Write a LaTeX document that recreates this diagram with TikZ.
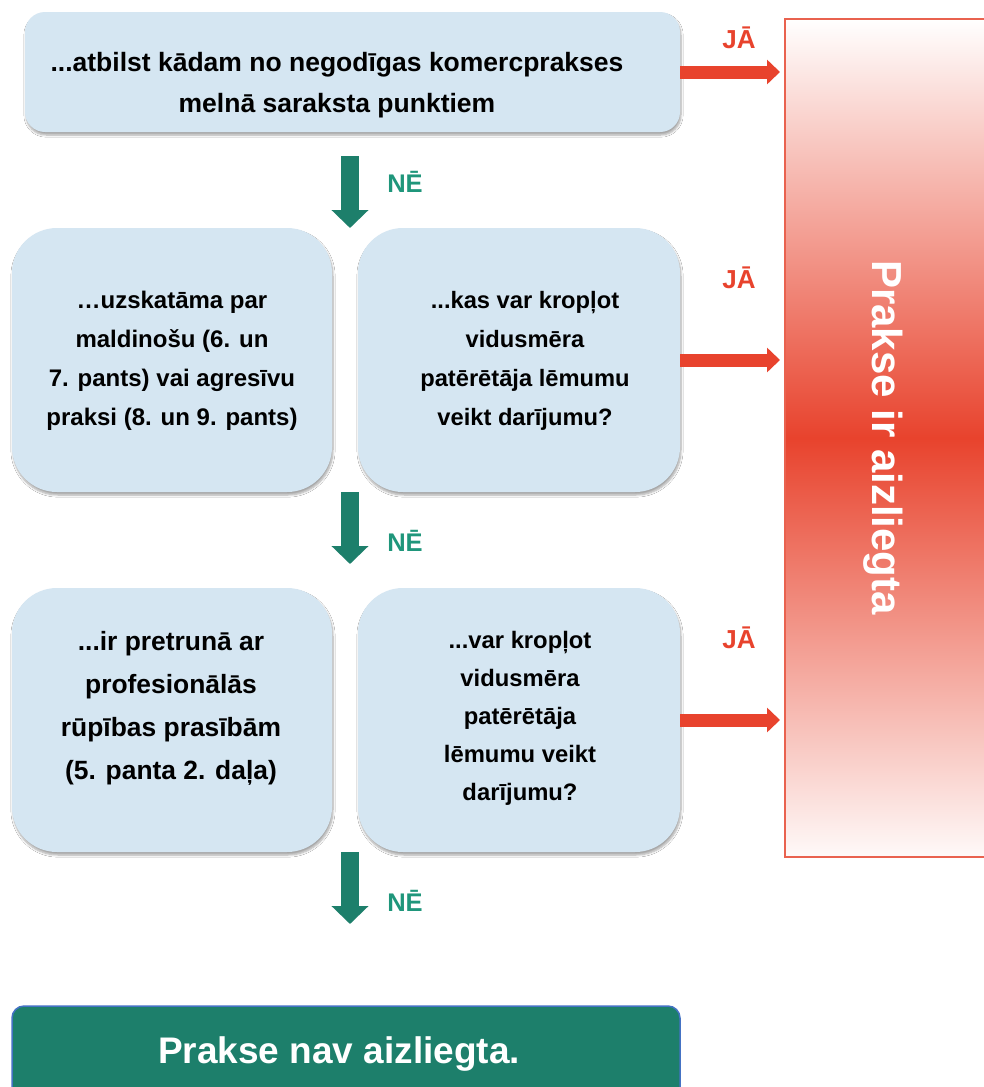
\documentclass[tikz,border=0pt]{standalone}
\usepackage{fontspec}
\setmainfont{Liberation Sans}
\usetikzlibrary{arrows.meta,shadows.blur,calc}
\definecolor{boxblue}{HTML}{D5E6F2}
\definecolor{darkgreen}{HTML}{1D7F6B}
\definecolor{netext}{HTML}{1F967B}
\definecolor{jared}{HTML}{E8432D}
\definecolor{redborder}{HTML}{E9624F}
\definecolor{bluebord}{HTML}{4472C4}
\tikzset{
  qbox/.style={fill=boxblue, draw=none, inner sep=0pt, outer sep=0pt, anchor=north west,
    blur shadow={shadow xshift=1pt, shadow yshift=-3pt, shadow opacity=35, shadow blur steps=6}},
  qtext/.style={align=center, inner sep=0pt, text=black, font=\bfseries},
  garrow/.style={darkgreen, line width=17.6pt, -{Triangle[width=36pt,length=18pt]}},
  rarrow/.style={jared, line width=13pt, -{Triangle[width=24pt,length=13pt]}},
  nelabel/.style={text=netext, font=\fontsize{25.5}{30}\selectfont\bfseries, inner sep=0pt},
  jalabel/.style={text=jared, font=\fontsize{26}{30}\selectfont\bfseries, inner sep=0pt},
}
\begin{document}
\begin{tikzpicture}[x=1pt,y=-1pt]
\useasboundingbox (0,0) rectangle (983,1087);
\fill[white] (0,0) rectangle (983,1087);

% red "prohibited" panel
\node[anchor=north west, minimum width=220pt, minimum height=838pt, inner sep=0pt, outer sep=0pt,
  draw=redborder, line width=1.5pt, top color=white, bottom color=jared!3, middle color=jared] (red) at (785,19) {};
\node[rotate=-90, anchor=base, text=white, font=\fontsize{42}{48}\selectfont\bfseries, inner sep=0pt] (redtxt) at (872,437.5) {Prakse ir aizliegta};

% question boxes
\node[qbox, minimum width=655pt, minimum height=120pt, rounded corners=20pt] (top) at (25,12) {};
\node[qbox, minimum width=320pt, minimum height=264pt, rounded corners=45pt] (b2l) at (12,228) {};
\node[qbox, minimum width=322pt, minimum height=264pt, rounded corners=45pt] (b2r) at (358,228) {};
\node[qbox, minimum width=320pt, minimum height=264pt, rounded corners=45pt] (b3l) at (12,588) {};
\node[qbox, minimum width=322pt, minimum height=264pt, rounded corners=45pt] (b3r) at (358,588) {};

\node[qtext, font=\fontsize{26.5}{41}\selectfont\bfseries] (ttop) at (337,85.5)
  {...atbilst kādam no negodīgas komercprakses\\melnā saraksta punktiem};
\node[qtext, font=\fontsize{24}{39}\selectfont\bfseries] (t2l) at (172,361)
  {…uzskatāma par\\maldinošu (6. un\\7. pants) vai agresīvu\\praksi (8. un 9. pants)};
\node[qtext, font=\fontsize{23.7}{39}\selectfont\bfseries] (t2r) at (525,361)
  {...kas var kropļot\\vidusmēra\\patērētāja lēmumu\\veikt darījumu?};
\node[qtext, font=\fontsize{26.4}{43}\selectfont\bfseries] (t3l) at (171,708)
  {...ir pretrunā ar\\profesionālās\\rūpības prasībām\\(5. panta 2. daļa)};
\node[qtext, font=\fontsize{23.8}{38}\selectfont\bfseries] (t3r) at (520,718.5)
  {...var kropļot\\vidusmēra\\patērētāja\\lēmumu veikt\\darījumu?};

% final box
\node[anchor=north west, minimum width=668pt, minimum height=100pt, inner sep=0pt, outer sep=0pt,
  fill=darkgreen, draw=bluebord, line width=1.5pt, rounded corners=12pt] (final) at (12,1006) {};
\node[text=white, font=\fontsize{37}{44}\selectfont\bfseries, inner sep=0pt] (finaltxt) at (339,1054) {Prakse nav aizliegta.};

% green NĒ arrows
\coordinate (g1s) at (350,156);
\coordinate (g2s) at (350,492);
\coordinate (g3s) at (350,852);
\coordinate (g3e) at (350,924);
\draw[garrow] (g1s) -- (g1s |- b2l.north);
\draw[garrow] (g2s) -- (350,564);
\draw[garrow] (g3s) -- (g3e);
\node[nelabel] (ne1) at (405,182) {NĒ};
\node[nelabel] (ne2) at (405,541) {NĒ};
\node[nelabel] (ne3) at (405,901) {NĒ};

% red JĀ arrows
\draw[rarrow, shorten >=5pt] (top.east) -- (top.east -| red.west);
\draw[rarrow, shorten >=5pt] (b2r.east) -- (b2r.east -| red.west);
\draw[rarrow, shorten >=5pt] (b3r.east) -- (b3r.east -| red.west);
\node[jalabel] (ja1) at (739,38) {JĀ};
\node[jalabel] (ja2) at (739,278) {JĀ};
\node[jalabel] (ja3) at (739,638) {JĀ};
\end{tikzpicture}
\end{document}
